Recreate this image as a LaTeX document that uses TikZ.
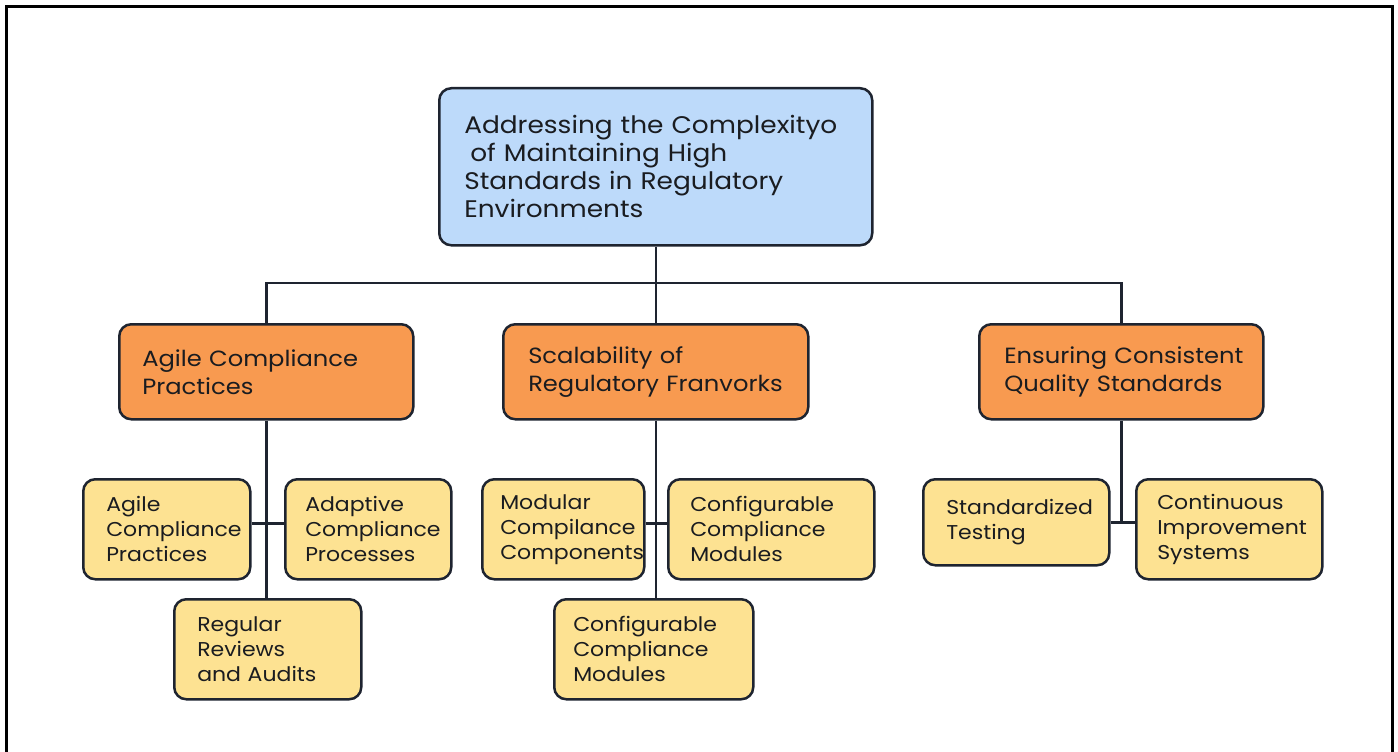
\documentclass[tikz,border=0pt]{standalone}
\usepackage{fontspec}
\setmainfont[FakeStretch=1.1]{Poppins}
\definecolor{edge}{HTML}{1E2430}
\definecolor{blueF}{HTML}{BDDAFA}
\definecolor{orangeF}{HTML}{F89A50}
\definecolor{yellowF}{HTML}{FDE292}
\definecolor{ink}{HTML}{1A1C20}
\newcommand\padl[1]{\leftskip=#1pt\relax}
\tikzset{
  box/.style={draw=edge, line width=2.5pt, rounded corners=12pt, anchor=north west, align=left, inner xsep=0pt, inner ysep=0pt, text=ink},
  topbox/.style={box, fill=blueF, font=\fontsize{24}{28}\selectfont},
  midbox/.style={box, fill=orangeF, font=\fontsize{22}{28}\selectfont},
  leafbox/.style={box, fill=yellowF, font=\fontsize{20}{25}\selectfont},
  conn/.style={draw=edge, line width=2.5pt}
}
\begin{document}
\hyphenpenalty=10000 \exhyphenpenalty=10000
\begin{tikzpicture}[x=1pt,y=-1pt]
\useasboundingbox (0,0) rectangle (1398,752);
\fill[white] (0,0) rectangle (1398,752);
\draw[line width=3pt, black] (6,752) -- (6,7) -- (1392,7) -- (1392,752);

\node[topbox, minimum width=433pt, minimum height=157pt, text width=433pt] (top) at (438,87)
  {\padl{25}Addressing the Complexityo\\\hspace*{6pt}of Maintaining High\\Standards in Regulatory\\Environments\par};

\node[midbox, minimum width=294pt, minimum height=95pt, text width=294pt] (oA) at (118,323)
  {\padl{23}Agile Compliance\\Practices\par};
\node[midbox, minimum width=305pt, minimum height=95pt, text width=305pt] (oB) at (502,323)
  {\padl{25}Scalability of\\Regulatory Franvorks\par};
\node[midbox, minimum width=284pt, minimum height=95pt, text width=284pt] (oC) at (978,323)
  {\padl{25}Ensuring Consistent\\Quality Standards\par};

\node[leafbox, minimum width=167pt, minimum height=100pt, text width=167pt] (L1) at (82,478)
  {\padl{23}Agile\\Compliance\\Practices\par};
\node[leafbox, minimum width=166pt, minimum height=100pt, text width=166pt] (L2) at (284,478)
  {\padl{20}Adaptive\\Compliance\\Processes\par};
\node[leafbox, minimum width=187pt, minimum height=100pt, text width=187pt] (L3) at (173,598)
  {\padl{23}Regular\\Reviews\\and Audits\par};

\node[leafbox, minimum width=162pt, minimum height=100pt, text width=162pt] (M1) at (481,478)
  {\padl{18}Modular\\Compilance\\Components\par};
\node[leafbox, minimum width=206pt, minimum height=100pt, text width=206pt] (M2) at (667,478)
  {\padl{22}Configurable\\Compliance\\Modules\par};
\node[leafbox, minimum width=199pt, minimum height=100pt, text width=199pt] (M3) at (553,598)
  {\padl{19}Configurable\\Compliance\\Modules\par};

\node[leafbox, minimum width=186pt, minimum height=86pt, text width=186pt] (S1) at (922,478)
  {\padl{23}Standardized\\Testing\par};
\node[leafbox, minimum width=186pt, minimum height=100pt, text width=186pt] (S2) at (1135,478)
  {\padl{21}Continuous\\Improvement\\Systems\par};

\coordinate (bus) at (top.south |- 0,283);
\draw[conn] (top.south) -- (bus);
\draw[conn] (oA.north) |- (bus) -| (oC.north);
\draw[conn] (bus) -- (oB.north);

\draw[conn] (oA.south) -- (oA.south |- L3.north);
\draw[conn] ([yshift=6pt]L1.east) -- ([yshift=6pt]L2.west);
\draw[conn] (oB.south) -- (oB.south |- M3.north);
\draw[conn] ([yshift=6pt]M1.east) -- ([yshift=6pt]M2.west);
\draw[conn] (oC.south) -- (oC.south |- S1.east);
\draw[conn] (S1.east) -- (S2.west |- S1.east);
\end{tikzpicture}
\end{document}
